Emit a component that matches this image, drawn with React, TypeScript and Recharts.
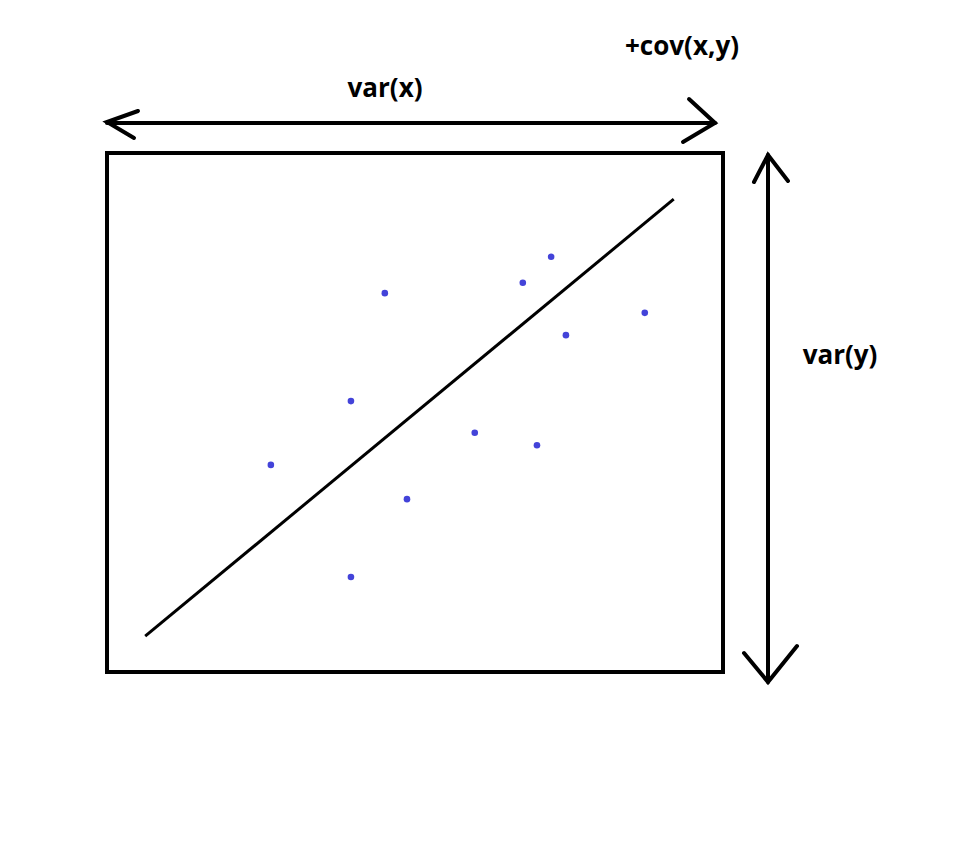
import {
  ComposedChart,
  Scatter,
  Line,
  XAxis,
  YAxis,
  ReferenceArea,
  Customized
} from 'recharts'

// scatter samples, box spans 0..10 on both axes
const pointX = [4.51, 7.21, 6.75, 7.45, 8.73, 3.96, 5.97, 6.98, 2.66, 4.87, 3.96]
const pointY = [7.3, 8.0, 7.5, 6.49, 6.92, 5.22, 4.61, 4.37, 3.99, 3.33, 1.83]

// fitted line end points
const fitX = [0.62, 9.2]
const fitY = [0.69, 9.11]

const labels = ['var(x)', '+cov(x,y)', 'var(y)']

const points = pointX.map((x, i) => ({ x, y: pointY[i] }))
const fit = fitX.map((x, i) => ({ x, y: fitY[i] }))

const W = 968
const H = 866
const font = '"Open Sans", "Noto Sans", sans-serif'

function Annotations() {
  const s = { stroke: '#000', strokeWidth: 4, strokeLinecap: 'round' as const, fill: 'none' }
  return (
    <g>
      {/* horizontal double arrow */}
      <line x1={107} y1={123} x2={715} y2={123} {...s} />
      <polyline points="138,111 107,122 134,138" {...s} />
      <polyline points="689,99 715,123 683,142" {...s} />
      {/* vertical double arrow */}
      <line x1={768} y1={155} x2={768} y2={682} {...s} />
      <polyline points="754,182 768,155 788,181" {...s} />
      <polyline points="744,653 768,682 797,646" {...s} />
      <text x={385} y={97} textAnchor="middle" fontFamily={font} fontWeight="bold" fontSize={26} fill="#000">
        {labels[0]}
      </text>
      <text x={682} y={55} textAnchor="middle" fontFamily={font} fontWeight="bold" fontSize={26} fill="#000">
        {labels[1]}
      </text>
      <text x={840} y={364} textAnchor="middle" fontFamily={font} fontWeight="bold" fontSize={26} fill="#000">
        {labels[2]}
      </text>
    </g>
  )
}

export default function App() {
  return (
    <div style={{ position: 'fixed', left: 0, top: 0, width: W, height: H, background: '#fff' }}>
      <ComposedChart
        width={W}
        height={H}
        margin={{ top: 153, right: 245, bottom: 194, left: 107 }}
      >
        <XAxis type="number" dataKey="x" domain={[0, 10]} hide />
        <YAxis type="number" dataKey="y" domain={[0, 10]} hide />
        <ReferenceArea x1={0} x2={10} y1={0} y2={10} fill="none" stroke="#000" strokeWidth={4} fillOpacity={0} />
        <Line
          data={fit}
          dataKey="y"
          type="linear"
          stroke="#000"
          strokeWidth={3}
          dot={false}
          activeDot={false}
          isAnimationActive={false}
        />
        <Scatter
          data={points}
          dataKey="y"
          fill="#4343d9"
          isAnimationActive={false}
          shape={(p: any) => <circle cx={p.cx} cy={p.cy} r={3.3} fill="#4343d9" />}
        />
        <Customized component={Annotations} />
      </ComposedChart>
    </div>
  )
}
